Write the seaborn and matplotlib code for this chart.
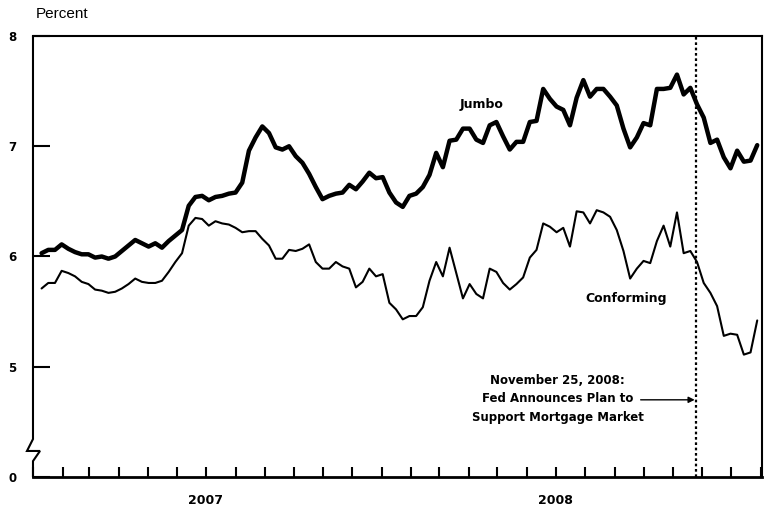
import pandas as pd
import numpy as np
import seaborn as sns
import matplotlib.pyplot as plt
import matplotlib.dates as mdates
from matplotlib.lines import Line2D

# weekly rates, Jan 2007 - Jan 2009
start_date = "2007-01-10"
jumbo = [6.03, 6.06, 6.06, 6.11, 6.07, 6.04, 6.02, 6.02, 5.99, 6.00,
         5.98, 6.00, 6.05, 6.10, 6.15, 6.12, 6.09, 6.12, 6.08, 6.14,
         6.19, 6.24, 6.46, 6.54, 6.55, 6.51, 6.54, 6.55, 6.57, 6.58,
         6.67, 6.96, 7.08, 7.18, 7.12, 6.99, 6.97, 7.00, 6.91, 6.85,
         6.75, 6.63, 6.52, 6.55, 6.57, 6.58, 6.65, 6.61, 6.68, 6.76,
         6.71, 6.72, 6.58, 6.49, 6.45, 6.55, 6.57, 6.63, 6.74, 6.94,
         6.81, 7.05, 7.06, 7.16, 7.16, 7.06, 7.03, 7.19, 7.22, 7.09,
         6.97, 7.04, 7.04, 7.22, 7.23, 7.52, 7.43, 7.36, 7.33, 7.19,
         7.44, 7.60, 7.45, 7.52, 7.52, 7.45, 7.37, 7.16, 6.99, 7.08,
         7.21, 7.19, 7.52, 7.52, 7.53, 7.65, 7.47, 7.53, 7.38, 7.26,
         7.03, 7.06, 6.90, 6.80, 6.96, 6.86, 6.87, 7.01]
conforming = [5.71, 5.76, 5.76, 5.87, 5.85, 5.82, 5.77, 5.75, 5.70, 5.69,
              5.67, 5.68, 5.71, 5.75, 5.80, 5.77, 5.76, 5.76, 5.78, 5.86,
              5.95, 6.03, 6.28, 6.35, 6.34, 6.28, 6.32, 6.30, 6.29, 6.26,
              6.22, 6.23, 6.23, 6.16, 6.10, 5.98, 5.98, 6.06, 6.05, 6.07,
              6.11, 5.95, 5.89, 5.89, 5.95, 5.91, 5.89, 5.72, 5.77, 5.89,
              5.82, 5.84, 5.58, 5.52, 5.43, 5.46, 5.46, 5.54, 5.78, 5.95,
              5.82, 6.08, 5.85, 5.62, 5.75, 5.66, 5.62, 5.89, 5.86, 5.76,
              5.70, 5.75, 5.81, 5.99, 6.06, 6.30, 6.27, 6.22, 6.26, 6.09,
              6.41, 6.40, 6.30, 6.42, 6.40, 6.36, 6.24, 6.05, 5.80, 5.89,
              5.96, 5.94, 6.14, 6.28, 6.09, 6.40, 6.03, 6.05, 5.95, 5.76,
              5.67, 5.55, 5.28, 5.30, 5.29, 5.11, 5.13, 5.42]

ytick_pos = [4, 5, 6, 7, 8]
ytick_labels = ["0", "5", "6", "7", "8"]
year_labels = ["2007", "2008"]
event_date = "2008-11-25"
event_text = "November 25, 2008:\nFed Announces Plan to\nSupport Mortgage Market"

dates = pd.date_range(start_date, periods=len(jumbo), freq="7D")
df = pd.DataFrame({"date": dates, "Jumbo": jumbo, "Conforming": conforming})

sns.set_style("ticks")
plt.rcParams["font.family"] = ["DejaVu Sans"]
plt.rcParams["text.color"] = "black"
plt.rcParams["xtick.color"] = "black"
plt.rcParams["ytick.color"] = "black"

fig = plt.figure(figsize=(7.69, 5.13), dpi=100)
ax = fig.add_axes([0.0429, 0.0702, 0.948, 0.8596])

sns.lineplot(data=df, x="date", y="Jumbo", color="black", linewidth=3.2, ax=ax)
sns.lineplot(data=df, x="date", y="Conforming", color="black", linewidth=1.5, ax=ax)

ax.set_xlim(pd.Timestamp("2007-01-01"), pd.Timestamp("2009-02-02"))
ax.set_ylim(4, 8)
ax.set_xlabel("")
ax.set_ylabel("")

# y axis (broken at the bottom)
ax.set_yticks(ytick_pos)
ax.set_yticklabels(ytick_labels, fontweight="bold", fontsize=8.5)
ax.tick_params(axis="y", direction="in", length=12.5, width=1.5, pad=12)

# x axis: month ticks, year labels in the middle of each year
ax.xaxis.remove_overlapping_locs = False
ax.xaxis.set_major_locator(mdates.MonthLocator())
ax.xaxis.set_major_formatter(plt.NullFormatter())
ax.set_xticks([pd.Timestamp(f"{y}-07-01") for y in year_labels], minor=True)
ax.set_xticklabels(year_labels, minor=True, fontweight="bold", fontsize=9)
ax.tick_params(axis="x", which="major", direction="in", length=7, width=1.5)
ax.tick_params(axis="x", which="minor", length=0, pad=12)

for s in ["top", "right", "bottom"]:
    ax.spines[s].set_visible(True)
    ax.spines[s].set_linewidth(1.5)
    ax.spines[s].set_color("black")
ax.spines["bottom"].set_linewidth(2)
ax.spines["left"].set_visible(False)

# left spine with break symbol
dx = 1 / 729
brk = Line2D([0, 0, -6 * dx, 7 * dx, 0, 0],
             [1, 0.086, 0.059, 0.059, 0.036, 0],
             transform=ax.transAxes, color="black", linewidth=1.5,
             clip_on=False, solid_joinstyle="miter")
ax.add_line(brk)

# event line and annotation
ev = pd.Timestamp(event_date)
ax.axvline(ev, color="black", linestyle=(0, (1.2, 1.2)), linewidth=1.6)
ax.text(pd.Timestamp("2008-07-03"), 4.71, event_text, ha="center", va="center",
        fontsize=8.5, fontweight="bold", linespacing=1.55)
ax.annotate("", xy=(ev, 4.70), xytext=(pd.Timestamp("2008-09-28"), 4.70),
            arrowprops=dict(arrowstyle="-|>", color="black", lw=1.0,
                            mutation_scale=9, shrinkA=0, shrinkB=1))

ax.text(pd.Timestamp("2008-04-14"), 7.38, "Jumbo", ha="center", va="center",
        fontsize=9, fontweight="bold")
ax.text(pd.Timestamp("2008-09-13"), 5.62, "Conforming", ha="center", va="center",
        fontsize=9, fontweight="bold")

fig.text(0.047, 0.972, "Percent", ha="left", va="center",
         fontsize=11, family=["Liberation Sans", "DejaVu Sans"])

fig.savefig("out.png", dpi=100)
